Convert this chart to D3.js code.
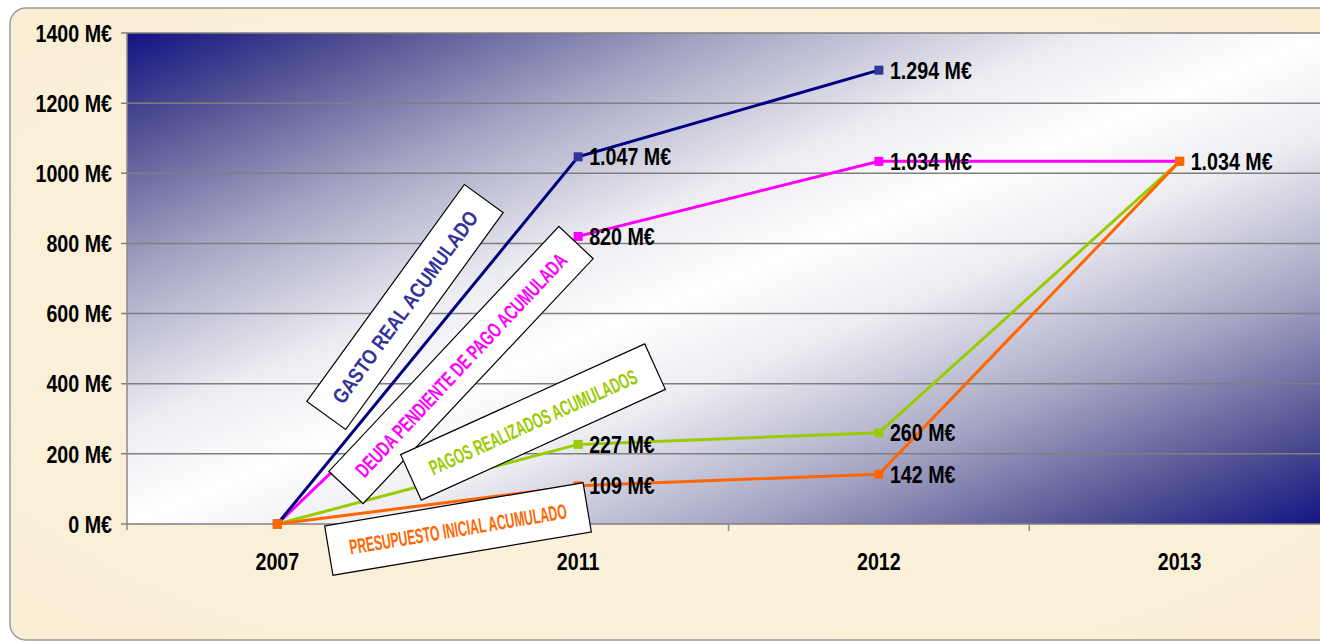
<!DOCTYPE html>
<html>
<head>
<meta charset="utf-8">
<script src="https://cdn.jsdelivr.net/npm/d3@7"></script>
<style>
  html, body { margin: 0; padding: 0; background: #fff; }
  svg { display: block; }
  text { font-family: "Liberation Sans", Arial, sans-serif; font-weight: bold; }
</style>
</head>
<body>
<svg id="chart" width="1320" height="643"></svg>
<script>
// datos
const years = ["2007", "2011", "2012", "2013"];
const gasto_real = [0, 1047, 1294, null];
const deuda_pendiente = [0, 820, 1034, 1034];
const pagos_realizados = [0, 227, 260, 1034];
const presupuesto_inicial = [0, 109, 142, 1034];
const y_ticks = [0, 200, 400, 600, 800, 1000, 1200, 1400];

// etiquetas de valor: [serie, índice de año, texto]
const value_labels = [
    ["gasto", 1, "1.047 M€"], ["gasto", 2, "1.294 M€"],
    ["deuda", 1, "820 M€"], ["deuda", 2, "1.034 M€"],
    ["pagos", 1, "227 M€"], ["pagos", 2, "260 M€"],
    ["presupuesto", 1, "109 M€"], ["presupuesto", 2, "142 M€"], ["presupuesto", 3, "1.034 M€"]
];

const SERIES = [
    {key: "deuda", values: deuda_pendiente, line: "#ff00ff", marker: "#ff00ff"},
    {key: "gasto", values: gasto_real, line: "#000080", marker: "#333399"},
    {key: "pagos", values: pagos_realizados, line: "#99cc00", marker: "#99cc00"},
    {key: "presupuesto", values: presupuesto_inicial, line: "#ff6600", marker: "#ff6600"}
];

// cajas giradas con el nombre de cada serie
const BOXES = [
    {text: "GASTO REAL ACUMULADO", color: "#333399", cx: 405, cy: 307, w: 268, h: 48, angle: -54, tl: 232},
    {text: "DEUDA PENDIENTE DE PAGO ACUMULADA", color: "#ff00ff", cx: 461, cy: 365, w: 336, h: 47, angle: -46.8, tl: 298},
    {text: "PAGOS REALIZADOS ACUMULADOS", color: "#99cc00", cx: 533, cy: 422, w: 268, h: 50, angle: -24.4, tl: 226},
    {text: "PRESUPUESTO INICIAL ACUMULADO", color: "#ff6600", cx: 458, cy: 529, w: 262, h: 50, angle: -9.5, tl: 220}
];

const SVG = d3.select("#chart");
const PLOT = {left: 127, top: 33, right: 1330, bottom: 524};
const MARKER = 9;
const NARROW = 0.82; // simula la fuente estrecha
const LABEL_SIZE = 24;

const X_SCALE = d3.scaleBand().domain(years).range([PLOT.left, PLOT.right]);
const Y_SCALE = d3.scaleLinear().domain([0, 1400]).range([PLOT.bottom, PLOT.top]);

const defs = SVG.append("defs");
let grad = defs.append("linearGradient").attr("id", "plotGrad")
    .attr("x1", "0").attr("y1", "0").attr("x2", "1").attr("y2", "1");
[[0, "#121284"], [0.1, "#4e4e92"], [0.25, "#a6a6c4"], [0.4, "#ececf2"], [0.5, "#ffffff"],
 [0.6, "#ececf2"], [0.75, "#a6a6c4"], [0.9, "#4e4e92"], [1, "#121284"]].forEach(s =>
    grad.append("stop").attr("offset", s[0]).attr("stop-color", s[1]));

let paper = defs.append("radialGradient").attr("id", "paperGrad")
    .attr("cx", "0.5").attr("cy", "0.5").attr("r", "0.8");
paper.append("stop").attr("offset", "0").attr("stop-color", "#fcf4e2");
paper.append("stop").attr("offset", "1").attr("stop-color", "#f9edd2");

// panel de fondo
SVG.append("rect")
    .attr("x", 10).attr("y", 8).attr("width", 1340).attr("height", 632)
    .attr("rx", 16).attr("ry", 16)
    .attr("fill", "url(#paperGrad)")
    .attr("stroke", "#9a9a9a").attr("stroke-width", 1.5);

// área del gráfico
SVG.append("rect")
    .attr("x", PLOT.left).attr("y", PLOT.top)
    .attr("width", PLOT.right - PLOT.left).attr("height", PLOT.bottom - PLOT.top)
    .attr("fill", "url(#plotGrad)");

// rejilla
SVG.append("g").selectAll("line").data(y_ticks).join("line")
    .attr("x1", PLOT.left - 6).attr("x2", PLOT.right)
    .attr("y1", d => Y_SCALE(d)).attr("y2", d => Y_SCALE(d))
    .attr("stroke", "#7f7f7f").attr("stroke-width", 1.5);

SVG.append("line")
    .attr("x1", PLOT.left).attr("x2", PLOT.left)
    .attr("y1", PLOT.top).attr("y2", PLOT.bottom + 6)
    .attr("stroke", "#8a8a8a").attr("stroke-width", 1.5);

// marcas del eje x entre categorías
let x_bounds = years.map(y => X_SCALE(y)).slice(1);
SVG.append("g").selectAll("line").data(x_bounds).join("line")
    .attr("x1", d => d).attr("x2", d => d)
    .attr("y1", PLOT.bottom).attr("y2", PLOT.bottom + 7)
    .attr("stroke", "#8a8a8a").attr("stroke-width", 1.5);

// texto estrecho: se escala en horizontal alrededor del punto de anclaje
function narrow_text(sel, x, y, anchor) {
    return sel.attr("transform", d => `translate(${x(d)},${y(d)}) scale(${NARROW},1)`)
        .attr("dy", "0.36em")
        .attr("text-anchor", anchor)
        .attr("font-size", LABEL_SIZE)
        .attr("fill", "#000");
}

// etiquetas del eje y
narrow_text(SVG.append("g").selectAll("text").data(y_ticks).join("text"),
    d => 112, d => Y_SCALE(d), "end")
    .text(d => d + " M€");

// etiquetas del eje x
narrow_text(SVG.append("g").selectAll("text").data(years).join("text"),
    d => X_SCALE(d) + X_SCALE.bandwidth() / 2, d => 561, "middle")
    .text(d => d);

const cx = i => X_SCALE(years[i]) + X_SCALE.bandwidth() / 2;

// líneas y marcadores
for (let s of SERIES) {
    let pts = s.values.map((v, i) => ({i: i, v: v})).filter(p => p.v !== null);
    let line = d3.line().x(p => cx(p.i)).y(p => Y_SCALE(p.v));
    SVG.append("path")
        .attr("d", line(pts))
        .attr("fill", "none")
        .attr("stroke", s.line)
        .attr("stroke-width", 3);
    SVG.append("g").selectAll("rect").data(pts).join("rect")
        .attr("x", p => cx(p.i) - MARKER / 2)
        .attr("y", p => Y_SCALE(p.v) - MARKER / 2)
        .attr("width", MARKER).attr("height", MARKER)
        .attr("fill", s.marker);
}

// cajas con nombres de series
for (let b of BOXES) {
    let g = SVG.append("g").attr("transform", `translate(${b.cx},${b.cy}) rotate(${b.angle})`);
    g.append("rect")
        .attr("x", -b.w / 2).attr("y", -b.h / 2)
        .attr("width", b.w).attr("height", b.h)
        .attr("fill", "#fff")
        .attr("stroke", "#000").attr("stroke-width", 1.2);
    g.append("text")
        .attr("x", 0).attr("y", 0).attr("dy", "0.36em")
        .attr("text-anchor", "middle")
        .attr("font-size", 21)
        .attr("textLength", b.tl)
        .attr("lengthAdjust", "spacingAndGlyphs")
        .attr("fill", b.color)
        .text(b.text);
}

// etiquetas de valor
const series_by_key = new Map(SERIES.map(s => [s.key, s]));
narrow_text(SVG.append("g").selectAll("text").data(value_labels).join("text"),
    d => cx(d[1]) + 11, d => Y_SCALE(series_by_key.get(d[0]).values[d[1]]), "start")
    .text(d => d[2]);
</script>
</body>
</html>
